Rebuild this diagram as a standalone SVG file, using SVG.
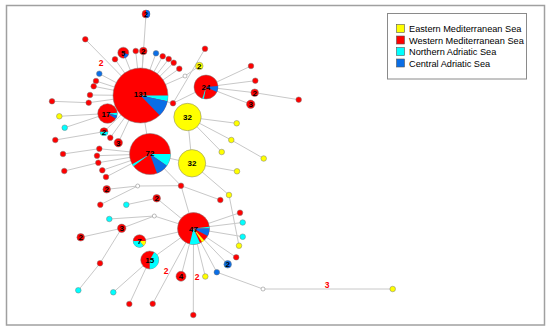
<svg xmlns="http://www.w3.org/2000/svg" width="550" height="330" viewBox="0 0 550 330">
<style>
.e{stroke:#c8c8c8;stroke-width:1;fill:none}
.n{stroke:#7a7a7a;stroke-width:0.5}
.r{fill:#ff0000}.y{fill:#ffff00}.c{fill:#00ffff}.b{fill:#0a6ee6}.w{fill:#ffffff}
.s{stroke:none}
.t{font-family:"Liberation Sans",Arial,sans-serif;font-weight:bold;font-size:8px;text-anchor:middle;fill:#000}
.el{font-family:"Liberation Sans",Arial,sans-serif;font-weight:bold;font-size:8.5px;text-anchor:middle;fill:#ff0000}
.lg{font-family:"Liberation Sans",Arial,sans-serif;font-size:9.2px;fill:#000}
.sq{stroke:#555;stroke-width:0.6}
</style>
<rect x="0" y="0" width="550" height="330" fill="#ffffff"/>
<rect x="6.5" y="5.5" width="538" height="319.5" fill="none" stroke="#a0a0a0" stroke-width="1.5"/>
<g id="connectors">
<path class="e" d="M140.5,95.5L146,14M140.5,95.5L85.3,39.3M140.5,95.5L115,59.3M140.5,95.5L123.3,52.7M140.5,95.5L135.7,51M140.5,95.5L143.3,51M140.5,95.5L156,53.3M140.5,95.5L162.7,56.3M140.5,95.5L168.7,59M140.5,95.5L173.7,62.7M140.5,95.5L179.3,68.7M140.5,95.5L185,76M185,76L199.3,66M140.5,95.5L173,103.3M173,103.3L206,87M173,103.3L205,48.7"/>
<path class="e" d="M140.5,95.5L99.3,73.7M140.5,95.5L96,81M140.5,95.5L93.7,86.3M140.5,95.5L90,95M140.5,95.5L88.7,102.7M88.7,102.7L52,101.3M140.5,95.5L107.5,113.5M107.5,113.5L59.3,116.3M107.5,113.5L64.7,127.7M140.5,95.5L104,131.7M104,131.7L55.3,140M140.5,95.5L110.3,137.7M140.5,95.5L118.3,142.7M140.5,95.5L150,154"/>
<path class="e" d="M150,154L99.3,148.7M99.3,148.7L63,154M150,154L97,155.7M150,154L98.3,162.7M98.3,162.7L64.3,171M150,154L102.3,170.3M150,154L106,177M150,154L192,163.3M187.5,117L192,163.3M187.5,117L236.7,123.3M187.5,117L231.3,140M231.3,140L263.7,158.5M187.5,117L221.7,152M192,163.3L237,171.3M192,163.3L229,195M229,195L239,245.7"/>
<path class="e" d="M206,87L251,66M206,87L255.3,80.7M206,87L254.7,92.7M254.7,92.7L298.7,99.7M206,87L250.7,104.3"/>
<path class="e" d="M150,154L181,185.7M181,185.7L193.5,228.5M181,185.7L220.3,200M181,185.7L137.7,186M137.7,186L106.7,189.3M137.7,186L100.3,204.7M193.5,228.5L156.7,198.3M156.7,198.3L126.3,204.7M193.5,228.5L154.3,216M154.3,216L109.3,219M154.3,216L121.7,228.3M121.7,228.3L80.7,237.3M121.7,228.3L100,263.3M100,263.3L78.3,290.3"/>
<path class="e" d="M193.5,228.5L139.5,241M193.5,228.5L149.7,260M149.7,260L113.3,292.3M149.7,260L129.3,304M193.5,228.5L152.7,303.7M193.5,228.5L181,276.3M193.5,228.5L193.3,315M193.5,228.5L205.3,276.5M193.5,228.5L216.8,272.2M216.8,272.2L263,289M263,289L392.7,289M193.5,228.5L227.7,264.3M193.5,228.5L236.2,257.3M193.5,228.5L240,212.7M193.5,228.5L242.7,222.5M193.5,228.5L242.7,236.7"/>
</g>
<g id="edge-labels">
<text class="el" x="101" y="66">2</text>
<text class="el" x="166" y="274">2</text>
<text class="el" x="197" y="280">2</text>
<text class="el" x="327" y="288">3</text>
</g>
<g id="n131"><circle class="n r" cx="140.5" cy="95.5" r="27.5"/><path class="c s" d="M140.5,95.5L168,95.5A27.5,27.5 0 0 1 167.4,101.2Z"/><path class="b s" d="M140.5,95.5L167.4,101.2A27.5,27.5 0 0 1 159.6,115.3Z"/><text class="t" x="140.5" y="97">131</text></g>
<g id="n72"><circle class="n r" cx="150" cy="154" r="20.5"/><path class="c s" d="M150,154L170.5,154A20.5,20.5 0 0 1 166.8,165.8Z"/><path class="b s" d="M150,154L166.8,165.8A20.5,20.5 0 0 1 157,173.3Z"/><path class="c s" d="M150,154L133.6,166.3A20.5,20.5 0 0 1 132.2,164.25Z"/><text class="t" x="150" y="156">72</text></g>
<g id="n24"><circle class="n r" cx="206" cy="87" r="12"/><path class="b s" d="M206,87L217.95,85.95A12,12 0 0 1 216.88,92.07Z"/><path class="c s" d="M206,87L203.9,98.8A12,12 0 0 1 202.3,98.4Z"/><text class="t" x="206" y="90">24</text></g>
<g id="n32a"><circle class="n y" cx="187.5" cy="117" r="13.7"/><text class="t" x="187.5" y="120">32</text></g>
<g id="n32b"><circle class="n y" cx="192" cy="163.3" r="13.7"/><text class="t" x="192" y="166.3">32</text></g>
<g id="n17"><circle class="n r" cx="107.5" cy="113.5" r="9.8"/><path class="c s" d="M107.5,113.5L117.26,112.65A9.8,9.8 0 0 1 117.09,115.54Z"/><path class="b s" d="M107.5,113.5L117.09,115.54A9.8,9.8 0 0 1 115.8,118.7Z"/><text class="t" x="106" y="116.5">17</text></g>
<g id="n47"><circle class="n r" cx="193.5" cy="228.5" r="16"/><path class="c s" d="M193.5,228.5L209.41,226.83A16,16 0 0 1 209.5,228.5Z"/><path class="b s" d="M193.5,228.5L209.5,228.5A16,16 0 0 1 207.63,236.01Z"/><path class="y s" d="M193.5,228.5L204.21,240.39A16,16 0 0 1 201.98,242.07Z"/><path class="c s" d="M193.5,228.5L200.01,243.12A16,16 0 0 1 189.63,244.02Z"/><text class="t" x="193.5" y="231.5">47</text></g>
<g id="n15"><circle class="n r" cx="149.7" cy="260" r="9"/><path class="c s" d="M149.7,260L154.2,252.2A9,9 0 0 1 149.7,269Z"/><text class="t" x="149.7" y="263">15</text></g>
<g id="n7"><circle class="n r" cx="139.5" cy="241" r="6.3"/><path class="y s" d="M139.5,241L145.8,241A6.3,6.3 0 0 1 143.55,245.83Z"/><path class="c s" d="M139.5,241L143.55,245.83A6.3,6.3 0 0 1 133.2,241Z"/><text class="t" x="139.5" y="244">7</text></g>
<g id="n5"><circle class="n r" cx="123.3" cy="52.7" r="5.5"/><path class="b s" d="M123.3,52.7L128.47,54.58A5.5,5.5 0 0 1 124.25,58.12Z"/><text class="t" x="123.3" y="55.7">5</text></g>
<g id="n2top"><circle class="n r" cx="146" cy="14" r="4"/><path class="b s" d="M146,10A4,4 0 0 1 146,18Z"/><text class="t" x="146" y="17">2</text></g>
<g id="n2a"><circle class="n r" cx="143.3" cy="51" r="3.8"/><text class="t" x="143.3" y="54">2</text></g>
<g id="n2y"><circle class="n y" cx="199.3" cy="66" r="3.8"/><text class="t" x="199.3" y="69">2</text></g>
<g id="n2b"><circle class="n r" cx="254.7" cy="92.7" r="3.8"/><text class="t" x="254.7" y="95.7">2</text></g>
<g id="n3a"><circle class="n r" cx="250.7" cy="104.3" r="4.2"/><text class="t" x="250.7" y="107.3">3</text></g>
<g id="n2c"><circle class="n r" cx="104" cy="131.7" r="4"/><path class="c s" d="M108,131.7A4,4 0 0 1 100,131.7Z"/><text class="t" x="104" y="134.7">2</text></g>
<g id="n3b"><circle class="n r" cx="118.3" cy="142.7" r="4.2"/><text class="t" x="118.3" y="145.7">3</text></g>
<g id="n2d"><circle class="n r" cx="106.7" cy="189.3" r="3.8"/><text class="t" x="106.7" y="192.3">2</text></g>
<g id="n2e"><circle class="n r" cx="156.7" cy="198.3" r="3.8"/><text class="t" x="156.7" y="201.3">2</text></g>
<g id="n3c"><circle class="n r" cx="121.7" cy="228.3" r="4.2"/><text class="t" x="121.7" y="231.3">3</text></g>
<g id="n2f"><circle class="n r" cx="80.7" cy="237.3" r="3.8"/><text class="t" x="80.7" y="240.3">2</text></g>
<g id="n2g"><circle class="n b" cx="227.7" cy="264.3" r="3.8"/><text class="t" x="227.7" y="267.3">2</text></g>
<g id="n4"><circle class="n r" cx="181" cy="276.3" r="5"/><text class="t" x="181" y="279.3">4</text></g>
<g id="small-nodes">
<circle class="n r" cx="85.3" cy="39.3" r="2.8"/>
<circle class="n r" cx="115" cy="59.3" r="2.8"/>
<circle class="n r" cx="135.7" cy="51" r="2.8"/>
<circle class="n b" cx="156" cy="53.3" r="2.8"/>
<circle class="n r" cx="162.7" cy="56.3" r="2.8"/>
<circle class="n r" cx="168.7" cy="59" r="2.8"/>
<circle class="n r" cx="173.7" cy="62.7" r="2.8"/>
<circle class="n r" cx="179.3" cy="68.7" r="2.8"/>
<circle class="n w" cx="185" cy="76" r="2"/>
<circle class="n r" cx="205" cy="48.7" r="2.8"/>
<circle class="n r" cx="173" cy="103.3" r="2.8"/>
<circle class="n b" cx="99.3" cy="73.7" r="2.8"/>
<circle class="n r" cx="96" cy="81" r="2.8"/>
<circle class="n r" cx="93.7" cy="86.3" r="2.8"/>
<circle class="n r" cx="90" cy="95" r="2.8"/>
<circle class="n r" cx="88.7" cy="102.7" r="2.8"/>
<circle class="n r" cx="52" cy="101.3" r="2.8"/>
<circle class="n y" cx="59.3" cy="116.3" r="2.8"/>
<circle class="n c" cx="64.7" cy="127.7" r="2.8"/>
<circle class="n r" cx="55.3" cy="140" r="2.8"/>
<circle class="n r" cx="110.3" cy="137.7" r="2.8"/>
<circle class="n r" cx="99.3" cy="148.7" r="2.8"/>
<circle class="n r" cx="63" cy="154" r="2.8"/>
<circle class="n r" cx="97" cy="155.7" r="2.8"/>
<circle class="n r" cx="98.3" cy="162.7" r="2.8"/>
<circle class="n r" cx="64.3" cy="171" r="2.8"/>
<circle class="n r" cx="102.3" cy="170.3" r="2.8"/>
<circle class="n r" cx="106" cy="177" r="2.8"/>
<circle class="n r" cx="251" cy="66" r="2.8"/>
<circle class="n r" cx="255.3" cy="80.7" r="2.8"/>
<circle class="n r" cx="298.7" cy="99.7" r="2.8"/>
<circle class="n y" cx="236.7" cy="123.3" r="2.8"/>
<circle class="n y" cx="231.3" cy="140" r="2.8"/>
<circle class="n y" cx="263.7" cy="158.5" r="2.8"/>
<circle class="n y" cx="221.7" cy="152" r="2.8"/>
<circle class="n y" cx="237" cy="171.3" r="2.8"/>
<circle class="n y" cx="229" cy="195" r="2.8"/>
<circle class="n y" cx="239" cy="245.7" r="2.8"/>
<circle class="n r" cx="181" cy="185.7" r="2.8"/>
<circle class="n r" cx="220.3" cy="200" r="2.8"/>
<circle class="n w" cx="137.7" cy="186" r="2"/>
<circle class="n r" cx="100.3" cy="204.7" r="2.8"/>
<circle class="n c" cx="126.3" cy="204.7" r="2.8"/>
<circle class="n w" cx="154.3" cy="216" r="2"/>
<circle class="n c" cx="109.3" cy="219" r="2.8"/>
<circle class="n r" cx="100" cy="263.3" r="2.8"/>
<circle class="n c" cx="78.3" cy="290.3" r="2.8"/>
<circle class="n c" cx="113.3" cy="292.3" r="2.8"/>
<circle class="n r" cx="129.3" cy="304" r="2.8"/>
<circle class="n r" cx="152.7" cy="303.7" r="2.8"/>
<circle class="n r" cx="193.3" cy="315" r="2.8"/>
<circle class="n y" cx="205.3" cy="276.5" r="2.8"/>
<circle class="n b" cx="216.8" cy="272.2" r="2.8"/>
<circle class="n w" cx="263" cy="289" r="2"/>
<circle class="n y" cx="392.7" cy="289" r="2.8"/>
<circle class="n r" cx="236.2" cy="257.3" r="2.8"/>
<circle class="n r" cx="240" cy="212.7" r="2.8"/>
<circle class="n c" cx="242.7" cy="222.5" r="2.8"/>
<circle class="n c" cx="242.7" cy="236.7" r="2.8"/>
</g>
<g id="legend">
<rect x="387.5" y="13.5" width="139" height="65.5" fill="#ffffff" stroke="#8a8a8a" stroke-width="1"/>
<rect class="sq y" x="396.5" y="24.5" width="8" height="8"/>
<rect class="sq r" x="396.5" y="36" width="8" height="8"/>
<rect class="sq c" x="396.5" y="47.5" width="8" height="8"/>
<rect class="sq b" x="396.5" y="59" width="8" height="8"/>
<text class="lg" x="409" y="32">Eastern Mediterranean Sea</text>
<text class="lg" x="409" y="43.5">Western Mediterranean Sea</text>
<text class="lg" x="409" y="55">Northern Adriatic Sea</text>
<text class="lg" x="409" y="66.5">Central Adriatic Sea</text>
</g>
</svg>
